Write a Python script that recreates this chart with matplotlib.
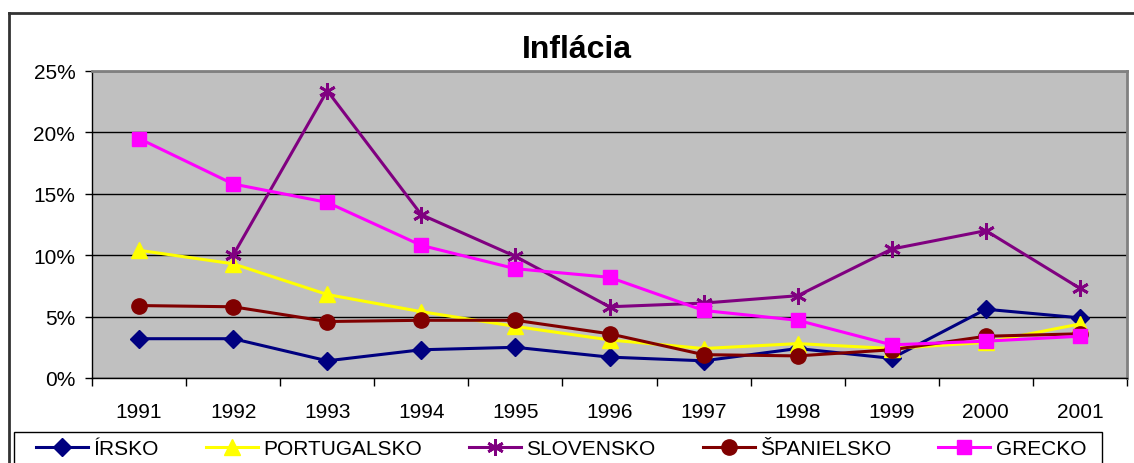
import matplotlib.pyplot as plt
import matplotlib.ticker as mticker
from matplotlib.lines import Line2D
from matplotlib.patches import Rectangle

plt.rcParams['font.family'] = ['Liberation Sans', 'DejaVu Sans']

years = ['1991', '1992', '1993', '1994', '1995', '1996', '1997', '1998', '1999', '2000', '2001']

irsko = [3.2, 3.2, 1.4, 2.3, 2.5, 1.7, 1.4, 2.4, 1.6, 5.6, 4.9]
portugalsko = [10.4, 9.3, 6.8, 5.4, 4.2, 3.1, 2.4, 2.8, 2.4, 2.9, 4.4]
slovensko = [None, 10.0, 23.4, 13.3, 9.9, 5.8, 6.1, 6.7, 10.5, 12.0, 7.3]
spanielsko = [5.9, 5.8, 4.6, 4.7, 4.7, 3.6, 1.9, 1.8, 2.3, 3.4, 3.6]
grecko = [19.5, 15.8, 14.3, 10.8, 8.9, 8.2, 5.5, 4.7, 2.7, 3.0, 3.4]

series = [
    ('ÍRSKO', irsko, '#000080', 'D', 9),
    ('PORTUGALSKO', portugalsko, '#FFFF00', '^', 11),
    ('SLOVENSKO', slovensko, '#800080', (6, 2, 0), 12),
    ('ŠPANIELSKO', spanielsko, '#800000', 'o', 11),
    ('GRECKO', grecko, '#FF00FF', 's', 10),
]

W, H = 1134, 464
fig = plt.figure(figsize=(W / 100, H / 100), dpi=100)
ax = fig.add_axes([92 / W, 85 / H, (1127 - 92) / W, (379 - 72) / H])
ax.set_facecolor('#C0C0C0')

x = list(range(len(years)))
for name, vals, color, marker, ms in series:
    xs = [i for i, v in zip(x, vals) if v is not None]
    ys = [v / 100 for v in vals if v is not None]
    ax.plot(xs, ys, color=color, lw=2.2, marker=marker, markersize=ms,
            markeredgewidth=2 if marker == (6, 2, 0) else 1,
            markeredgecolor=color, markerfacecolor=color, label=name, zorder=3)

ax.set_xlim(-0.5, len(years) - 0.5)
ax.set_ylim(0, 0.25)
ax.yaxis.set_major_locator(mticker.MultipleLocator(0.05))
ax.yaxis.set_major_formatter(mticker.PercentFormatter(1.0, decimals=0))
ax.set_xticks(x)
ax.set_xticklabels(years)
ax.set_xticks([i - 0.5 for i in range(len(years) + 1)], minor=True)
ax.tick_params(axis='x', which='major', length=0, pad=17, labelsize=15)
ax.tick_params(axis='x', which='minor', length=6, direction='out', width=1)
ax.tick_params(axis='y', length=5, direction='out', width=1, pad=7, labelsize=15)

ax.grid(axis='y', color='black', lw=1)
ax.set_axisbelow(True)
for side in ['top', 'right']:
    ax.spines[side].set_color('#808080')
    ax.spines[side].set_linewidth(2)
for side in ['left', 'bottom']:
    ax.spines[side].set_color('black')
    ax.spines[side].set_linewidth(1)

fig.text(577 / W, (H - 58) / H, 'Inflácia', ha='center', va='baseline',
         fontsize=23, fontweight='bold')

# outer chart frame
fig.add_artist(Line2D([9 / W, 9 / W], [0, (H - 14) / H], color='#333333', lw=2))
fig.add_artist(Line2D([9 / W, 1], [(H - 14) / H, (H - 14) / H], color='#333333', lw=2))

# legend box starts at y=433 px and runs off the bottom edge
fig.add_artist(Rectangle((14 / W, -0.05), (1102 - 14) / W, (H - 433) / H + 0.05,
                         transform=fig.transFigure, fill=False, edgecolor='black', lw=1))
leg_top = (H - 440) / H
leg = fig.legend(loc='upper left', bbox_to_anchor=(36 / W, leg_top - 0.2, (1086 - 36) / W, 0.2),
                 mode='expand', ncol=5, fontsize=15, frameon=False,
                 handlelength=2.5, handletextpad=0.25, borderpad=0, borderaxespad=0)

fig.savefig('out.png', dpi=100)
